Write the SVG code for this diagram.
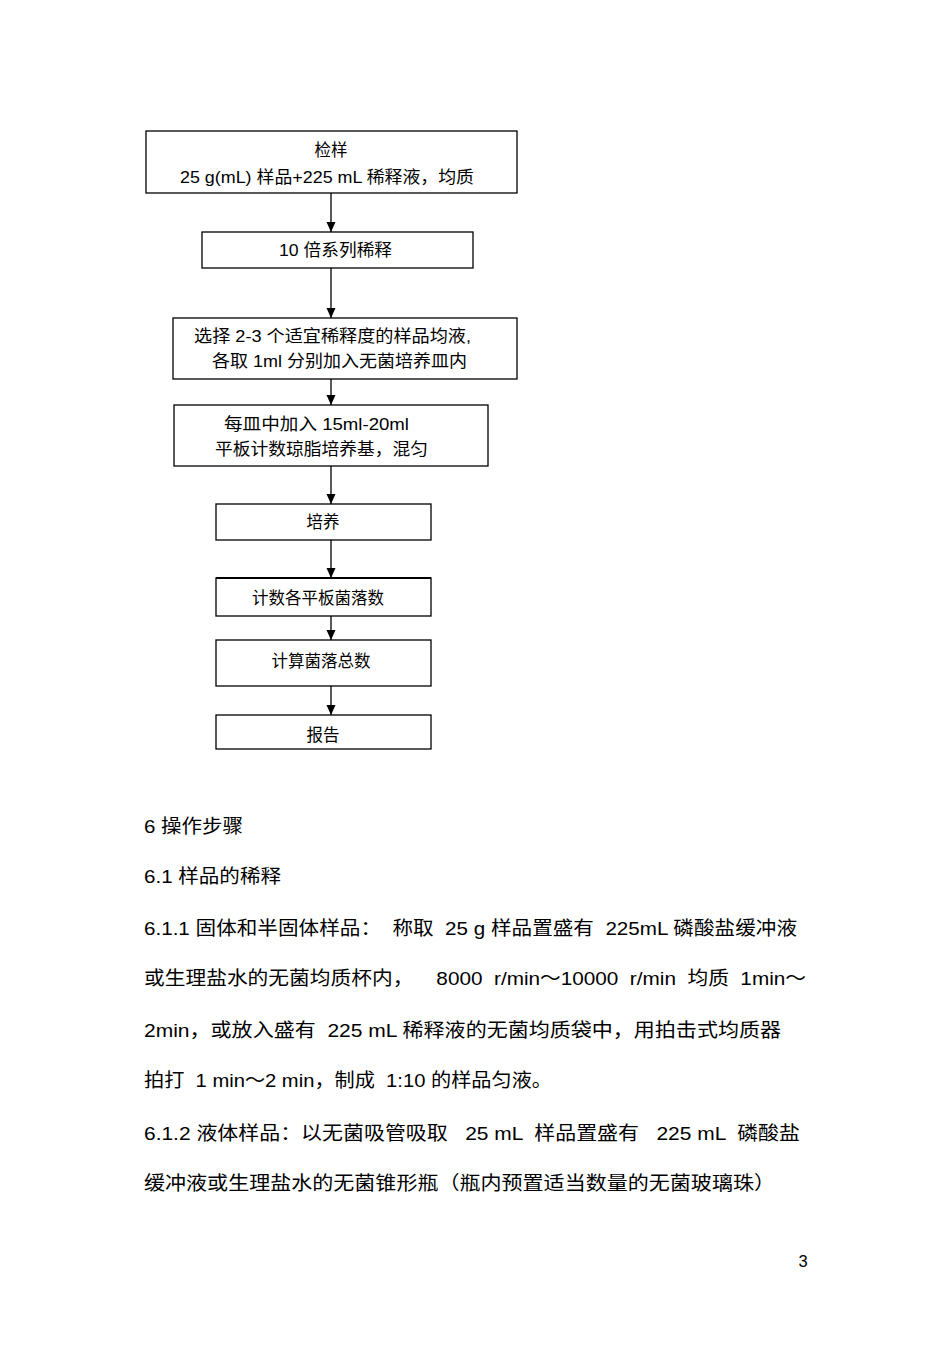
<svg xmlns="http://www.w3.org/2000/svg" width="950" height="1345" viewBox="0 0 950 1345">
<defs>
<style>
.box{fill:#fff;stroke:#000;stroke-width:1.3}
.ft{font-family:"Liberation Sans","Noto Sans CJK SC",sans-serif;font-size:16.5px;fill:#000}
.bt{font-family:"Liberation Sans","Noto Sans CJK SC",sans-serif;font-size:19px;fill:#000}
.conn{stroke:#000;stroke-width:1.3;fill:none;marker-end:url(#ah)}
</style>
<marker id="ah" markerWidth="10" markerHeight="10" refX="10" refY="5" orient="auto" markerUnits="userSpaceOnUse">
<path d="M0,0.5 L10,5 L0,9.5 Z" fill="#000"/>
</marker>
</defs>
<rect width="950" height="1345" fill="#fff"/>
<g id="connectors">
<line class="conn" x1="331" y1="193" x2="331" y2="232"/>
<line class="conn" x1="331" y1="268" x2="331" y2="318"/>
<line class="conn" x1="331" y1="379" x2="331" y2="405"/>
<line class="conn" x1="331" y1="466" x2="331" y2="504"/>
<line class="conn" x1="331" y1="540" x2="331" y2="578"/>
<line class="conn" x1="331" y1="616" x2="331" y2="640"/>
<line class="conn" x1="331" y1="686" x2="331" y2="715"/>
</g>
<g id="n1">
<rect class="box" x="146" y="131" width="371" height="62"/>
<text class="ft" x="331" y="156" text-anchor="middle">检样</text>
<text class="ft" x="180" y="183" textLength="294" lengthAdjust="spacingAndGlyphs">25 g(mL) 样品+225 mL 稀释液，均质</text>
</g>
<g id="n2">
<rect class="box" x="202" y="232" width="271" height="36"/>
<text class="ft" x="279" y="256" textLength="113" lengthAdjust="spacingAndGlyphs">10 倍系列稀释</text>
</g>
<g id="n3">
<rect class="box" x="173" y="318" width="344" height="61"/>
<text class="ft" x="194" y="342" textLength="277" lengthAdjust="spacingAndGlyphs">选择 2-3 个适宜稀释度的样品均液,</text>
<text class="ft" x="212" y="367" textLength="255" lengthAdjust="spacingAndGlyphs">各取 1ml 分别加入无菌培养皿内</text>
</g>
<g id="n4">
<rect class="box" x="174" y="405" width="314" height="61"/>
<text class="ft" x="224" y="430" textLength="185" lengthAdjust="spacingAndGlyphs">每皿中加入  15ml-20ml</text>
<text class="ft" x="215" y="455" textLength="213" lengthAdjust="spacingAndGlyphs">平板计数琼脂培养基，混匀</text>
</g>
<g id="n5">
<rect class="box" x="216" y="504" width="215" height="36"/>
<text class="ft" x="323" y="528" text-anchor="middle">培养</text>
</g>
<g id="n6">
<rect class="box" x="216" y="578" width="215" height="38"/>
<line x1="216" y1="578" x2="431" y2="578" stroke="#000" stroke-width="2"/>
<text class="ft" x="318" y="604" text-anchor="middle">计数各平板菌落数</text>
</g>
<g id="n7">
<rect class="box" x="216" y="640" width="215" height="46"/>
<text class="ft" x="321" y="667" text-anchor="middle">计算菌落总数</text>
</g>
<g id="n8">
<rect class="box" x="216" y="715" width="215" height="34"/>
<text class="ft" x="323" y="741" text-anchor="middle">报告</text>
</g>
<g id="body">
<text class="bt" x="144" y="833" textLength="99" lengthAdjust="spacingAndGlyphs">6 操作步骤</text>
<text class="bt" x="144" y="883" textLength="137" lengthAdjust="spacingAndGlyphs">6.1 样品的稀释</text>
<text class="bt" x="144" y="935" textLength="653" lengthAdjust="spacingAndGlyphs" xml:space="preserve">6.1.1 固体和半固体样品：  称取  25 g 样品置盛有  225mL 磷酸盐缓冲液</text>
<text class="bt" x="144" y="985" textLength="662" lengthAdjust="spacingAndGlyphs" xml:space="preserve">或生理盐水的无菌均质杯内，    8000  r/min～10000  r/min  均质  1min～</text>
<text class="bt" x="144" y="1037" textLength="637" lengthAdjust="spacingAndGlyphs" xml:space="preserve">2min，或放入盛有  225 mL 稀释液的无菌均质袋中，用拍击式均质器</text>
<text class="bt" x="144" y="1087" textLength="408" lengthAdjust="spacingAndGlyphs" xml:space="preserve">拍打  1 min～2 min，制成  1:10 的样品匀液。</text>
<text class="bt" x="144" y="1140" textLength="656" lengthAdjust="spacingAndGlyphs" xml:space="preserve">6.1.2 液体样品：以无菌吸管吸取   25 mL  样品置盛有   225 mL  磷酸盐</text>
<text class="bt" x="144" y="1190" textLength="631" lengthAdjust="spacingAndGlyphs">缓冲液或生理盐水的无菌锥形瓶（瓶内预置适当数量的无菌玻璃珠）</text>
<text class="ft" x="803" y="1267" text-anchor="middle" font-size="13">3</text>
</g>
</svg>
